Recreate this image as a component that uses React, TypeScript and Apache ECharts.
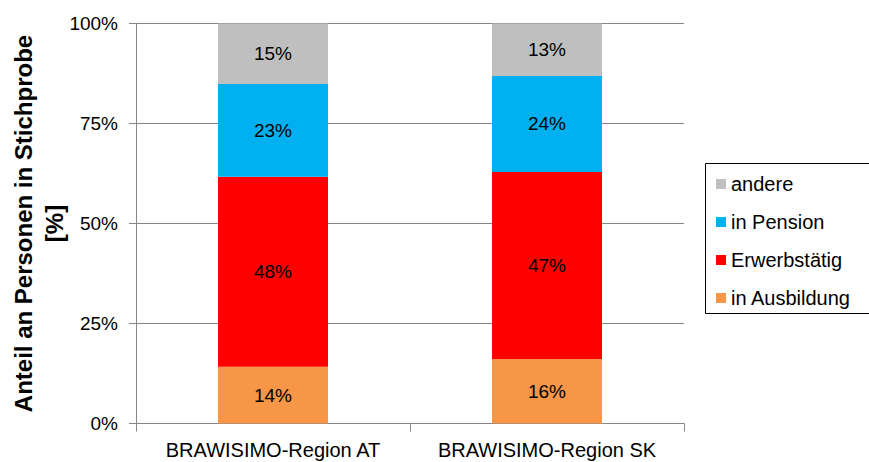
import React, { useEffect, useRef } from "react";
import * as echarts from "echarts";

const categories = ["BRAWISIMO-Region AT", "BRAWISIMO-Region SK"];
const seriesNames = ["in Ausbildung", "Erwerbstätig", "in Pension", "andere"];
const inAusbildung = [14.2, 16.1];
const erwerbstaetig = [47.5, 46.8];
const inPension = [23.2, 24.0];
const andere = [15.1, 13.1];
const colors = ["#F79646", "#FF0000", "#00B0F0", "#BFBFBF"];
const legendOrder = ["andere", "in Pension", "Erwerbstätig", "in Ausbildung"];
const yTitle = "Anteil an Personen in Stichprobe\n[%]";

const FONT = "'Liberation Sans', Arial, sans-serif";

export default function App() {
  const ref = useRef<HTMLDivElement>(null);

  useEffect(() => {
    if (!ref.current) return;
    const chart = echarts.init(ref.current, undefined, { renderer: "svg" });
    const values = [inAusbildung, erwerbstaetig, inPension, andere];
    const series = seriesNames.map((name, i) => ({
      name,
      type: "bar",
      stack: "total",
      barWidth: 110,
      data: values[i],
      itemStyle: { color: colors[i] },
      label: {
        show: true,
        position: "inside",
        formatter: (p: any) => Math.round(p.value) + "%",
        color: "#000",
        fontSize: 19,
        fontFamily: FONT,
      },
    }));

    chart.setOption({
      animation: false,
      textStyle: { fontFamily: FONT },
      grid: {
        left: 136,
        right: 185,
        top: 23.5,
        bottom: 38.5,
        containLabel: false,
        outerBoundsMode: "none",
      },
      legend: {
        orient: "vertical",
        left: 711,
        top: 169,
        itemWidth: 10,
        itemHeight: 10,
        itemGap: 18,
        icon: "rect",
        data: legendOrder,
        textStyle: { fontSize: 20, color: "#000", fontFamily: FONT },
        padding: 5,
      },
      graphic: [
        {
          type: "rect",
          shape: { x: 705.5, y: 163.5, width: 180, height: 150 },
          style: { fill: "none", stroke: "#000", lineWidth: 1 },
          silent: true,
        },
      ],
      xAxis: {
        type: "category",
        data: categories,
        axisLine: { lineStyle: { color: "#868686" } },
        axisTick: { show: true, length: 8, lineStyle: { color: "#868686" } },
        axisLabel: { interval: 0, fontSize: 20, color: "#000", margin: 16, fontFamily: FONT },
      },
      yAxis: {
        type: "value",
        min: 0,
        max: 100,
        interval: 25,
        name: yTitle,
        nameLocation: "middle",
        nameRotate: 90,
        nameGap: 66,
        nameMoveOverlap: false,
        nameTextStyle: {
          fontSize: 24,
          fontWeight: "bold",
          color: "#000",
          lineHeight: 31,
          fontFamily: FONT,
        },
        axisLine: { show: true, lineStyle: { color: "#868686" } },
        axisTick: { show: true, length: 7, lineStyle: { color: "#868686" } },
        axisLabel: { formatter: "{value}%", fontSize: 19, color: "#000", margin: 18, fontFamily: FONT },
        splitLine: { lineStyle: { color: "#868686" } },
      },
      series,
    });
    return () => chart.dispose();
  }, []);

  return (
    <div
      ref={ref}
      style={{ position: "fixed", left: 0, top: 0, width: 869, height: 462, background: "#fff" }}
    />
  );
}
